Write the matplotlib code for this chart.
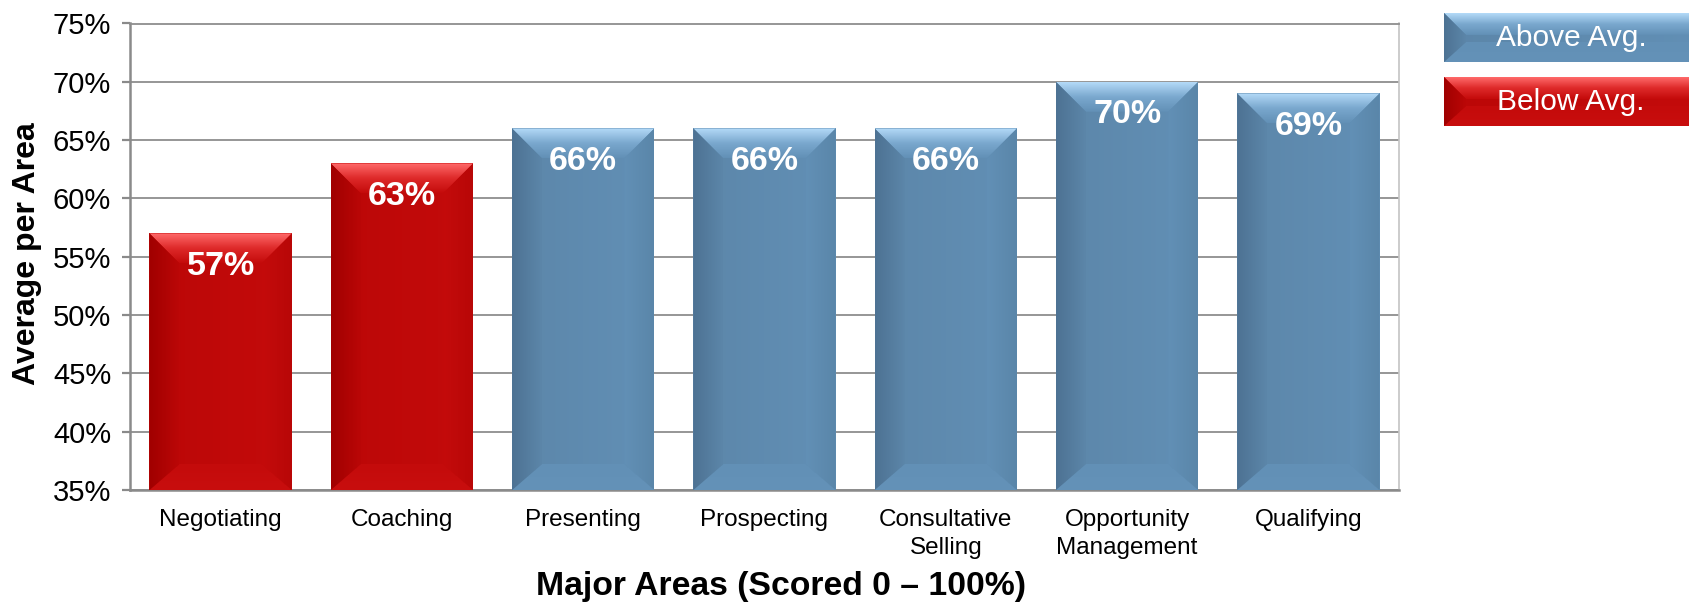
import numpy as np
import matplotlib
matplotlib.use("Agg")
import matplotlib.pyplot as plt
from matplotlib.patches import Polygon
from matplotlib.colors import to_rgb

plt.rcParams['font.family'] = ['Liberation Sans', 'DejaVu Sans']

# ---- data ----
categories = ["Negotiating", "Coaching", "Presenting", "Prospecting",
              "Consultative\nSelling", "Opportunity\nManagement", "Qualifying"]
values = [57, 63, 66, 66, 66, 70, 69]
groups = ["Below Avg.", "Below Avg.", "Above Avg.", "Above Avg.",
          "Above Avg.", "Above Avg.", "Above Avg."]
legend_labels = ["Above Avg.", "Below Avg."]
y_ticks = [35, 40, 45, 50, 55, 60, 65, 70, 75]
y_label = "Average per Area"
x_label = "Major Areas (Scored 0 \u2013 100%)"

# ---- styles ----
PAL = {
    "Above Avg.": dict(face_l="#5c86a9", face_r="#6290b6", top_hi="#b4daf8",
                       top_mid="#7aa8ce", left="#4d7293", right="#5a86a9",
                       bottom="#6492b8"),
    "Below Avg.": dict(face_l="#bb0707", face_r="#c40b0b", top_hi="#ff6a6a",
                       top_mid="#de2a2a", left="#a00000", right="#b80707",
                       bottom="#c80e0e"),
}


def grad_fill(ax, verts, stops, axis, zorder):
    verts = np.asarray(verts, dtype=float)
    xmin, xmax = verts[:, 0].min(), verts[:, 0].max()
    ymin, ymax = verts[:, 1].min(), verts[:, 1].max()
    n = 96
    t = np.linspace(0, 1, n)
    pos = np.array([s[0] for s in stops])
    cols = np.array([to_rgb(s[1]) for s in stops])
    arr = np.stack([np.interp(t, pos, cols[:, k]) for k in range(3)], axis=-1)
    if axis == 'y':
        img = arr[:, None, :]
    else:
        img = arr[None, :, :]
    im = ax.imshow(img, extent=(xmin, xmax, ymin, ymax), origin='lower',
                   aspect='auto', interpolation='bilinear', zorder=zorder)
    poly = Polygon(verts, closed=True, transform=ax.transData,
                   facecolor='none', edgecolor='none')
    ax.add_patch(poly)
    im.set_clip_path(poly)


def bevel_box(ax, x0, x1, y0, y1, dx, dy, dyb, pal, z):
    grad_fill(ax, [(x0, y0), (x1, y0), (x1, y1), (x0, y1)],
              [(0, pal["face_l"]), (1, pal["face_r"])], 'x', z)
    # bottom (drawn under side bevels, blends into face)
    grad_fill(ax, [(x0, y0), (x1, y0), (x1 - dx, y0 + dyb), (x0 + dx, y0 + dyb)],
              [(0, pal["bottom"]), (1, pal["face_r"])], 'y', z + 0.05)
    # top
    grad_fill(ax, [(x0, y1), (x1, y1), (x1 - dx, y1 - dy), (x0 + dx, y1 - dy)],
              [(0, pal["face_r"]), (0.5, pal["top_mid"]), (1, pal["top_hi"])], 'y', z + 0.1)
    # left
    grad_fill(ax, [(x0, y0), (x0 + dx, y0 + dyb), (x0 + dx, y1 - dy), (x0, y1)],
              [(0, pal["left"]), (1, pal["face_l"])], 'x', z + 0.1)
    # right
    grad_fill(ax, [(x1, y0), (x1, y1), (x1 - dx, y1 - dy), (x1 - dx, y0 + dyb)],
              [(0, pal["face_r"]), (1, pal["right"])], 'x', z + 0.1)


W, H = 1690, 603
fig = plt.figure(figsize=(W / 100, H / 100), dpi=100)
ax = fig.add_axes([130 / W, 1 - 490 / H, 1269 / W, 466.5 / H])

x = np.arange(len(categories))
ax.set_xlim(-0.5, len(categories) - 0.5)
ax.set_ylim(y_ticks[0], y_ticks[-1])
ax.set_autoscale_on(False)

bars = ax.bar(x, values, width=0.785, color='none', edgecolor='none', zorder=2)

# pixel -> data conversion
p0 = ax.transData.transform((0, 0))
p1 = ax.transData.transform((1, 1))
px_x = p1[0] - p0[0]
px_y = p1[1] - p0[1]

ymin_vis = ax.get_ylim()[0]
for b, g in zip(bars, groups):
    bx0 = b.get_x()
    bx1 = bx0 + b.get_width()
    by0 = max(b.get_y(), ymin_vis)
    by1 = b.get_y() + b.get_height()
    bevel_box(ax, bx0, bx1, by0, by1, 30 / px_x, 30 / px_y, 26 / px_y, PAL[g], 3)
    ax.annotate(f"{int(round(b.get_height()))}%", (b.get_x() + b.get_width() / 2, by1),
                xytext=(0, -33), textcoords='offset pixels', ha='center', va='center',
                color='white', fontsize=24.5, fontweight='bold', zorder=6)

ax.set_xlim(-0.5, len(categories) - 0.5)
ax.set_ylim(y_ticks[0], y_ticks[-1])

ax.set_yticks(y_ticks)
ax.set_yticklabels([f"{t}%" for t in y_ticks])
ax.set_xticks(x)
ax.set_xticklabels(categories, fontsize=17.5, linespacing=1.3)
ax.tick_params(axis='y', length=6, width=1.6, color='#8a8a8a', pad=7.5,
               labelsize=21, labelcolor='black')
ax.tick_params(axis='x', length=0, pad=14)

ax.yaxis.grid(True, color='#8e8e8e', lw=1.3)
ax.set_axisbelow(True)
for s in ['left', 'bottom']:
    ax.spines[s].set_color('#8a8a8a')
    ax.spines[s].set_linewidth(1.8)
ax.spines['right'].set_color('#c4c4c4')
ax.spines['right'].set_linewidth(1.2)
ax.spines['top'].set_color('#8e8e8e')
ax.spines['top'].set_linewidth(1.3)

fig.text(27 / W, 1 - 254 / H, y_label, rotation=90, ha='center', va='center',
         fontsize=23, fontweight='bold')
fig.text(781 / W, 1 - 587 / H, x_label, ha='center', va='center',
         fontsize=24.3, fontweight='bold')

# ---- legend (beveled boxes) ----
lax = fig.add_axes([0, 0, 1, 1], zorder=10)
lax.set_xlim(0, W)
lax.set_ylim(0, H)
lax.set_autoscale_on(False)
lax.axis('off')
legend_boxes = [(13, 62), (77, 126)]
for lab, (t, bm) in zip(legend_labels, legend_boxes):
    bevel_box(lax, 1444, 1720, H - bm, H - t, 22, 22, 20, PAL[lab], 1)
    lax.text(1571, H - (t + bm) / 2, lab, ha='center', va='center',
             color='white', fontsize=21.5, zorder=5)
lax.set_xlim(0, W)
lax.set_ylim(0, H)

fig.savefig("out.png", dpi=100)
